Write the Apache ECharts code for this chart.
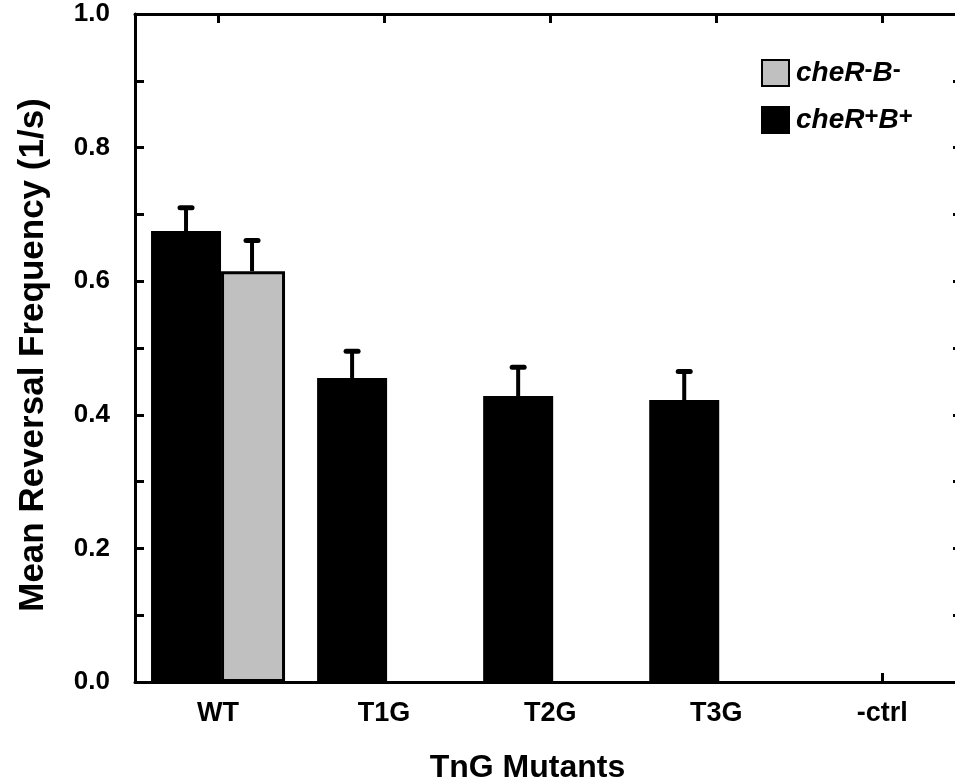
<!DOCTYPE html>
<html>
<head>
<meta charset="utf-8">
<script src="https://cdn.jsdelivr.net/npm/echarts@6/dist/echarts.min.js"></script>
<style>html,body{margin:0;padding:0;background:#fff}#c{width:955px;height:783px}</style>
</head>
<body>
<div id="c"></div>
<script>
// ---- data ----
const categories = ['WT', 'T1G', 'T2G', 'T3G', '-ctrl'];
const catPos = [1, 2, 3, 4, 5];
const plusValues = [0.675, 0.455, 0.428, 0.422, null];   // cheR+B+
const plusErrors = [0.035, 0.040, 0.043, 0.043, null];
const minusValues = [0.615, null, null, null, null];      // cheR-B-
const minusErrors = [0.046, null, null, null, null];
const yTickValues = [0, 0.1, 0.2, 0.3, 0.4, 0.5, 0.6, 0.7, 0.8, 0.9, 1.0];
const yLabelValues = [0, 0.2, 0.4, 0.6, 0.8, 1.0];
const yTitle = 'Mean Reversal Frequency (1/s)';
const xTitle = 'TnG Mutants';

const FONT = 'Liberation Sans';
const chart = echarts.init(document.getElementById('c'), null, {renderer: 'canvas'});

const axisLine = {show: true, onZero: false, lineStyle: {color: '#000', width: 3}};
const tickStyle = {color: '#000', width: 3};

function errSeries(name, vals, errs, offset) {
  return {
    type: 'custom', name: name + '_err', z: 5, silent: true,
    data: catPos.map((x, i) => vals[i] == null ? null : [x, vals[i], errs[i]]).filter(d => d),
    renderItem: function (params, api) {
      const x = api.value(0), v = api.value(1), e = api.value(2);
      const b = api.coord([x, v]);
      const t = api.coord([x, v + e]);
      const px = b[0] + offset;
      return {
        type: 'group',
        children: [
          {type: 'line', shape: {x1: px, y1: b[1], x2: px, y2: t[1]}, style: {stroke: '#000', lineWidth: 4}},
          {type: 'line', shape: {x1: px - 6, y1: t[1], x2: px + 6, y2: t[1]}, style: {stroke: '#000', lineWidth: 5, lineCap: 'round'}}
        ]
      };
    }
  };
}

const legendRich = {
  i: {fontFamily: FONT, fontWeight: 'bold', fontStyle: 'italic', fontSize: 28, color: '#000', lineHeight: 30},
  s: {fontFamily: FONT, fontWeight: 'bold', fontSize: 24, color: '#000', verticalAlign: 'top', lineHeight: 30, padding: [0, 0, 14, 0]}
};

const option = {
  animation: false,
  backgroundColor: '#fff',
  grid: {left: 135, top: 14, width: 827, height: 668, containLabel: false, outerBoundsMode: 'none'},
  legend: {
    orient: 'vertical', left: 756, top: 53,
    itemWidth: 27, itemHeight: 26, itemGap: 9, icon: 'rect',
    data: ['cheR-B-', 'cheR+B+'],
    formatter: function (n) {
      return n === 'cheR-B-' ? '{i|cheR}{s|-}{i|B}{s|-}' : '{i|cheR}{s|+}{i|B}{s|+}';
    },
    textStyle: {rich: legendRich, padding: [0, 0, 0, 2]}
  },
  xAxis: [
    {
      type: 'value', position: 'bottom', min: 0.5, max: 5.48,
      axisLine: axisLine,
      splitLine: {show: false},
      axisTick: {show: true, inside: true, length: 9, lineStyle: tickStyle, customValues: catPos},
      axisLabel: {show: true, customValues: catPos, margin: 18,
        formatter: v => categories[catPos.indexOf(Math.round(v))] || '',
        fontFamily: FONT, fontWeight: 'bold', fontSize: 27, color: '#000'},
      name: xTitle, nameLocation: 'middle', nameGap: 70,
      nameTextStyle: {fontFamily: FONT, fontWeight: 'bold', fontSize: 32, color: '#000', padding: [0, 42, 0, 0]}
    },
    {
      type: 'value', position: 'top', min: 0.5, max: 5.48,
      axisLine: axisLine,
      splitLine: {show: false},
      axisTick: {show: true, inside: true, length: 9, lineStyle: tickStyle, customValues: catPos},
      axisLabel: {show: false}
    }
  ],
  yAxis: [
    {
      type: 'value', position: 'left', min: 0, max: 1,
      axisLine: axisLine,
      splitLine: {show: false},
      axisTick: {show: true, inside: true, length: 9, lineStyle: tickStyle, customValues: yTickValues},
      axisLabel: {show: true, customValues: yLabelValues, margin: 25,
        formatter: v => v.toFixed(1),
        fontFamily: FONT, fontWeight: 'bold', fontSize: 26, color: '#000'},
      name: yTitle, nameLocation: 'middle', nameGap: 84, nameRotate: 90,
      nameTextStyle: {fontFamily: FONT, fontWeight: 'bold', fontSize: 35, color: '#000', padding: [0, 14, 0, 0]}
    },
    {
      type: 'value', position: 'right', min: 0, max: 1,
      axisLine: axisLine,
      splitLine: {show: false},
      axisTick: {show: true, inside: true, length: 9, lineStyle: tickStyle, customValues: yTickValues},
      axisLabel: {show: false}
    }
  ],
  series: [
    {
      type: 'bar', name: 'cheR+B+', barWidth: 70, barGap: '0%', z: 2,
      itemStyle: {color: '#000', borderColor: '#000', borderWidth: 3},
      data: catPos.map((x, i) => [x, plusValues[i]])
    },
    {
      type: 'bar', name: 'cheR-B-', barWidth: 64, barGap: '0%', z: 2,
      itemStyle: {color: '#c0c0c0', borderColor: '#000', borderWidth: 3},
      data: catPos.map((x, i) => [x, minusValues[i]])
    },
    errSeries('cheR+B+', plusValues, plusErrors, -32),
    errSeries('cheR-B-', minusValues, minusErrors, 34)
  ]
};
chart.setOption(option);
</script>
</body>
</html>
